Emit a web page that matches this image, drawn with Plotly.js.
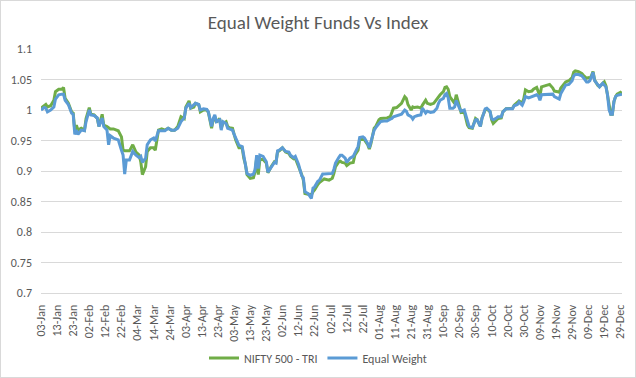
<!DOCTYPE html>
<html>
<head>
<meta charset="utf-8">
<script src="https://cdn.plot.ly/plotly-3.0.1.min.js"></script>
<style>
html,body{margin:0;padding:0;background:#fff;}
#wrap{position:relative;width:636px;height:378px;}
#chart{width:636px;height:378px;}
#frame{position:absolute;left:0;top:0;width:634px;height:376px;border:1px solid #d9d9d9;pointer-events:none;}
</style>
</head>
<body>
<div id="wrap"><div id="chart"></div><div id="frame"></div></div>
<script>
const chartTitle = "Equal Weight Funds Vs Index";
const seriesNames = ["NIFTY 500 - TRI", "Equal Weight"];

const dates = [
"2022-01-03","2022-01-05","2022-01-06","2022-01-07","2022-01-09","2022-01-11","2022-01-12","2022-01-14","2022-01-16","2022-01-17",
"2022-01-18","2022-01-20","2022-01-22","2022-01-23","2022-01-24","2022-01-25","2022-01-26","2022-01-28","2022-01-30","2022-01-31",
"2022-02-02","2022-02-03","2022-02-05","2022-02-07","2022-02-08","2022-02-10","2022-02-11","2022-02-13","2022-02-14","2022-02-15",
"2022-02-17","2022-02-20","2022-02-22","2022-02-23","2022-02-24","2022-02-25","2022-02-27",
"2022-03-01","2022-03-03","2022-03-05","2022-03-06","2022-03-07","2022-03-09","2022-03-10","2022-03-12","2022-03-14","2022-03-15",
"2022-03-17","2022-03-19","2022-03-21","2022-03-23","2022-03-25","2022-03-27","2022-03-29","2022-03-31",
"2022-04-02","2022-04-03","2022-04-05","2022-04-06","2022-04-08","2022-04-09","2022-04-11","2022-04-12","2022-04-14","2022-04-16",
"2022-04-17","2022-04-19","2022-04-20","2022-04-21","2022-04-22","2022-04-24","2022-04-25","2022-04-26","2022-04-28","2022-04-29","2022-04-30",
"2022-05-02","2022-05-03","2022-05-04","2022-05-06","2022-05-08","2022-05-09","2022-05-10","2022-05-11","2022-05-13","2022-05-15",
"2022-05-16","2022-05-17","2022-05-18","2022-05-19","2022-05-21","2022-05-23","2022-05-24","2022-05-26","2022-05-28","2022-05-29","2022-05-30","2022-05-31",
"2022-06-02","2022-06-04","2022-06-06","2022-06-07","2022-06-09","2022-06-10","2022-06-11","2022-06-12","2022-06-14","2022-06-15",
"2022-06-16","2022-06-18","2022-06-20","2022-06-21","2022-06-22","2022-06-24","2022-06-25","2022-06-27","2022-06-28",
"2022-07-01","2022-07-03","2022-07-04",
"2022-07-05","2022-07-07","2022-07-08","2022-07-09","2022-07-11","2022-07-12","2022-07-14","2022-07-16","2022-07-17","2022-07-19",
"2022-07-20","2022-07-22","2022-07-23","2022-07-25","2022-07-26","2022-07-27","2022-07-29","2022-07-30",
"2022-08-01","2022-08-02","2022-08-04","2022-08-06","2022-08-08","2022-08-09","2022-08-10","2022-08-12","2022-08-14","2022-08-15",
"2022-08-17","2022-08-18","2022-08-19","2022-08-21","2022-08-22","2022-08-23","2022-08-25","2022-08-27","2022-08-28","2022-08-30","2022-08-31",
"2022-09-02","2022-09-04","2022-09-06","2022-09-07","2022-09-08","2022-09-10","2022-09-11","2022-09-12","2022-09-13","2022-09-14",
"2022-09-16","2022-09-17","2022-09-18","2022-09-20","2022-09-21","2022-09-23","2022-09-25","2022-09-26","2022-09-28",
"2022-09-30",
"2022-10-01","2022-10-03","2022-10-04","2022-10-06","2022-10-07","2022-10-09","2022-10-10","2022-10-11","2022-10-13","2022-10-14",
"2022-10-16","2022-10-17","2022-10-19","2022-10-21","2022-10-23","2022-10-24","2022-10-26","2022-10-27","2022-10-29","2022-10-30","2022-10-31",
"2022-11-02","2022-11-04","2022-11-05","2022-11-07","2022-11-08","2022-11-09","2022-11-10","2022-11-12","2022-11-13","2022-11-15",
"2022-11-17","2022-11-18","2022-11-20","2022-11-21","2022-11-22","2022-11-24","2022-11-25","2022-11-27","2022-11-29","2022-11-30",
"2022-12-01","2022-12-03","2022-12-05","2022-12-06","2022-12-08","2022-12-09","2022-12-10","2022-12-11","2022-12-12","2022-12-13",
"2022-12-15","2022-12-16","2022-12-18","2022-12-19","2022-12-20","2022-12-21","2022-12-22","2022-12-23","2022-12-24","2022-12-25",
"2022-12-26","2022-12-27","2022-12-29","2022-12-30"
];

const nifty500Tri = [
1.003,1.008,1.009,1.005,1.007,1.016,1.030,1.034,1.034,1.037,
1.019,1.011,0.997,0.995,0.966,0.975,0.967,0.970,0.967,0.986,
1.004,0.993,0.992,0.986,0.973,0.993,0.975,0.973,0.971,0.969,
0.969,0.966,0.956,0.934,0.933,0.933,0.933,
0.943,0.931,0.926,0.915,0.894,0.907,0.932,0.938,0.938,0.934,
0.967,0.969,0.967,0.970,0.967,0.967,0.973,0.989,
0.986,1.005,1.015,1.003,1.005,1.011,1.009,0.997,1.000,1.000,
0.996,0.970,0.984,0.989,0.980,0.986,0.970,0.978,0.981,0.973,0.971,
0.970,0.960,0.951,0.938,0.938,0.921,0.911,0.894,0.888,0.889,
0.899,0.921,0.894,0.919,0.919,0.913,0.897,0.907,0.915,0.914,0.932,0.933,
0.938,0.931,0.929,0.924,0.920,0.921,0.915,0.907,0.894,0.885,
0.863,0.862,0.861,0.866,0.869,0.878,0.881,0.885,0.887,
0.885,0.888,0.896,
0.907,0.915,0.916,0.914,0.913,0.909,0.913,0.914,0.926,0.934,
0.951,0.952,0.951,0.943,0.936,0.945,0.970,0.973,
0.984,0.986,0.986,0.987,0.989,0.995,1.003,1.004,1.008,1.011,
1.022,1.019,1.009,1.000,1.005,1.004,1.005,1.003,1.008,1.016,1.011,
1.009,1.011,1.019,1.023,1.025,1.030,1.037,1.038,1.034,1.022,
1.014,1.011,1.025,1.005,0.996,0.997,0.975,0.971,0.970,
0.986,
0.984,0.973,0.987,1.000,1.002,0.997,0.984,0.978,0.984,0.986,
0.987,0.997,1.002,1.002,1.003,1.008,1.013,1.015,1.011,1.019,1.033,
1.030,1.031,1.034,1.037,1.030,1.023,1.038,1.040,1.040,1.042,
1.036,1.031,1.030,1.029,1.036,1.044,1.046,1.048,1.053,1.062,
1.064,1.063,1.060,1.057,1.052,1.053,1.052,1.056,1.063,1.049,
1.040,1.038,1.044,1.046,1.040,1.025,1.003,0.993,0.993,1.014,
1.022,1.026,1.029,1.026
];

const equalWeight = [
1.000,1.004,1.003,0.997,1.000,1.005,1.018,1.025,1.026,1.026,
1.016,1.009,0.995,0.993,0.960,0.967,0.960,0.967,0.966,0.981,
1.000,0.992,0.991,0.987,0.973,0.987,0.973,0.967,0.943,0.958,
0.954,0.951,0.934,0.926,0.895,0.918,0.918,
0.932,0.926,0.922,0.924,0.914,0.921,0.943,0.951,0.954,0.949,
0.966,0.966,0.966,0.970,0.967,0.967,0.970,0.981,
0.987,1.003,1.011,1.004,1.008,1.011,1.009,1.000,1.002,1.001,
0.997,0.973,0.986,0.992,0.981,0.984,0.967,0.981,0.978,0.970,0.969,
0.967,0.960,0.954,0.942,0.940,0.924,0.915,0.896,0.893,0.895,
0.902,0.926,0.904,0.926,0.924,0.915,0.898,0.907,0.914,0.913,0.933,0.934,
0.938,0.932,0.931,0.926,0.922,0.924,0.918,0.911,0.892,0.889,
0.866,0.863,0.855,0.872,0.874,0.883,0.885,0.895,0.895,
0.895,0.896,0.903,
0.913,0.922,0.926,0.926,0.921,0.914,0.921,0.924,0.929,0.940,
0.955,0.956,0.954,0.945,0.938,0.948,0.967,0.971,
0.978,0.981,0.982,0.982,0.985,0.986,0.989,0.991,0.993,0.993,
1.000,0.998,0.992,0.989,0.985,0.989,0.991,0.992,1.003,0.995,0.998,
0.996,0.997,1.003,1.011,1.016,1.019,1.025,1.027,1.020,1.003,
1.003,1.005,1.016,1.003,0.998,1.000,0.981,0.973,0.971,
0.984,
0.984,0.973,0.986,1.002,1.003,0.998,0.986,0.984,0.987,0.989,
0.989,0.997,1.002,1.002,1.002,1.007,1.009,1.013,1.008,1.014,1.022,
1.020,1.022,1.022,1.025,1.023,1.016,1.025,1.025,1.026,1.025,
1.026,1.022,1.019,1.018,1.027,1.038,1.041,1.042,1.048,1.056,
1.058,1.058,1.056,1.053,1.046,1.046,1.048,1.054,1.062,1.048,
1.040,1.038,1.044,1.041,1.038,1.025,1.000,0.993,0.993,1.014,
1.022,1.024,1.026,1.026
];

const font = "Carlito, Calibri, 'Liberation Sans Narrow', 'Liberation Sans', sans-serif";

const traces = [
  {x: dates, y: nifty500Tri, name: seriesNames[0], type: 'scatter', mode: 'lines',
   line: {color: '#70AD47', width: 3}},
  {x: dates, y: equalWeight, name: seriesNames[1], type: 'scatter', mode: 'lines',
   line: {color: '#5B9BD5', width: 3}}
];

const layout = {
  width: 636, height: 378,
  paper_bgcolor: '#ffffff', plot_bgcolor: '#ffffff',
  margin: {l: 41, r: 14, t: 49, b: 85},
  font: {family: font, color: '#595959', size: 12},
  title: {text: chartTitle, font: {family: font, size: 19, color: '#595959'},
          x: 0.5, xref: 'container', y: 1 - 22/378, yref: 'container', yanchor: 'middle'},
  xaxis: {type: 'date', range: ['2022-01-03', '2022-12-30'],
          tickmode: 'linear', tick0: '2022-01-03', dtick: 10*86400000,
          tickformat: '%d-%b', tickangle: -90, showgrid: false,
          showline: true, linecolor: '#d9d9d9', linewidth: 1,
          ticks: '', ticklabelstandoff: 6, zeroline: false,
          tickfont: {family: font, size: 12, color: '#595959'}},
  yaxis: {range: [0.7, 1.1], tickmode: 'linear', tick0: 0.7, dtick: 0.05,
          showgrid: true, gridcolor: '#d9d9d9', gridwidth: 1, zeroline: false,
          showline: false, ticks: '', ticklabelstandoff: 8,
          tickfont: {family: font, size: 12, color: '#595959'}},
  showlegend: true,
  legend: {orientation: 'h', x: 0.5, xref: 'container', xanchor: 'center',
           y: 1 - 358/378, yref: 'container', yanchor: 'middle',
           font: {family: font, size: 12, color: '#595959'}, itemwidth: 30,
           bgcolor: 'rgba(0,0,0,0)'}
};

Plotly.newPlot('chart', traces, layout, {displayModeBar: false, staticPlot: true});
</script>
</body>
</html>
